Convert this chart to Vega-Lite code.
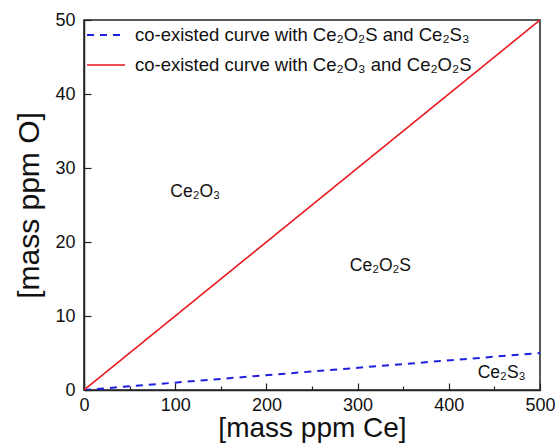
{
  "$schema": "https://vega.github.io/schema/vega-lite/v6.json",
  "width": 456,
  "height": 370,
  "autosize": {"type": "none"},
  "padding": {"left": 84, "top": 20, "right": 20, "bottom": 55},
  "background": "white",
  "config": {
    "font": "Liberation Sans",
    "view": {"stroke": "#222", "strokeWidth": 1.5}
  },
  "layer": [
    {
      "data": {"values": [
        {"curve": "co-existed curve with Ce₂O₂S and Ce₂S₃", "ce": 0, "o": 0},
        {"curve": "co-existed curve with Ce₂O₂S and Ce₂S₃", "ce": 500, "o": 5},
        {"curve": "co-existed curve with Ce₂O₃ and Ce₂O₂S", "ce": 0, "o": 0},
        {"curve": "co-existed curve with Ce₂O₃ and Ce₂O₂S", "ce": 500, "o": 50}
      ]},
      "mark": {"type": "line", "clip": true},
      "encoding": {
        "x": {
          "field": "ce", "type": "quantitative",
          "scale": {"domain": [0, 500], "nice": false},
          "axis": {
            "title": "[mass ppm Ce]",
            "titleFontSize": 28, "titleFontWeight": "normal", "titleColor": "#111", "titlePadding": 0,
            "values": [0, 50, 100, 150, 200, 250, 300, 350, 400, 450, 500],
            "labelExpr": "datum.value % 100 === 0 ? datum.label : ''",
            "labelFontSize": 18, "labelColor": "#111", "labelPadding": 13, "labelFlush": false,
            "grid": false, "domainColor": "#222", "domainWidth": 1.5,
            "tickColor": "#222", "tickWidth": 1.2,
            "tickSize": {"condition": {"test": "datum.value % 100 === 0", "value": -7}, "value": -4}
          }
        },
        "y": {
          "field": "o", "type": "quantitative",
          "scale": {"domain": [0, 50], "nice": false},
          "axis": {
            "title": "[mass ppm O]",
            "titleFontSize": 30, "titleFontWeight": "normal", "titleColor": "#111", "titlePadding": 10,
            "values": [0, 5, 10, 15, 20, 25, 30, 35, 40, 45, 50],
            "labelExpr": "datum.value % 10 === 0 ? datum.label : ''",
            "labelFontSize": 18, "labelColor": "#111", "labelPadding": 16, "labelFlush": false,
            "grid": false, "domainColor": "#222", "domainWidth": 1.5,
            "tickColor": "#222", "tickWidth": 1.2,
            "tickSize": {"condition": {"test": "datum.value % 10 === 0", "value": -7}, "value": -4}
          }
        },
        "color": {
          "field": "curve", "type": "nominal",
          "scale": {
            "domain": ["co-existed curve with Ce₂O₂S and Ce₂S₃", "co-existed curve with Ce₂O₃ and Ce₂O₂S"],
            "range": ["#1f1fe0", "#e8191f"]
          },
          "legend": {
            "title": null, "orient": "none", "legendX": 2, "legendY": -5, "padding": 0,
            "labelFontSize": 18.5, "labelColor": "#111", "labelLimit": 500,
            "symbolType": "stroke", "symbolSize": 1444, "symbolStrokeWidth": 2,
            "rowPadding": -10, "labelOffset": 9
          }
        },
        "strokeDash": {
          "field": "curve", "type": "nominal",
          "scale": {
            "domain": ["co-existed curve with Ce₂O₂S and Ce₂S₃", "co-existed curve with Ce₂O₃ and Ce₂O₂S"],
            "range": [[7, 6], [1, 0]]
          },
          "legend": null
        },
        "strokeWidth": {
          "field": "curve", "type": "nominal",
          "scale": {
            "domain": ["co-existed curve with Ce₂O₂S and Ce₂S₃", "co-existed curve with Ce₂O₃ and Ce₂O₂S"],
            "range": [2, 1.6]
          },
          "legend": null
        }
      }
    },
    {
      "data": {"values": [
        {"label": "Ce₂O₃", "ce": 122, "o": 26.8},
        {"label": "Ce₂O₂S", "ce": 325, "o": 16.8},
        {"label": "Ce₂S₃", "ce": 458, "o": 2.3}
      ]},
      "mark": {"type": "text", "fontSize": 17.5, "color": "#111", "align": "center", "baseline": "middle"},
      "encoding": {
        "x": {"field": "ce", "type": "quantitative"},
        "y": {"field": "o", "type": "quantitative"},
        "text": {"field": "label"}
      }
    }
  ]
}
